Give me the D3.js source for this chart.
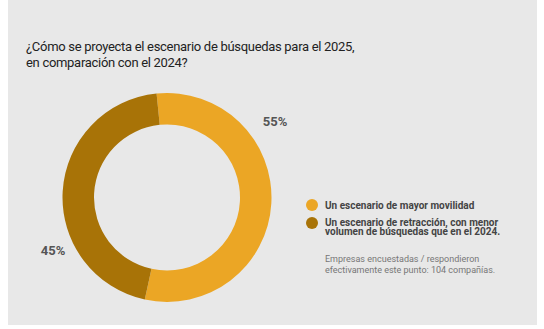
<!DOCTYPE html>
<html><head><meta charset="utf-8">
<script src="https://cdn.jsdelivr.net/npm/d3@7"></script>
<style>body{margin:0;background:#fff;}svg{display:block;font-family:Roboto,"Noto Sans",sans-serif;}</style>
</head><body>
<svg id="c" width="544" height="329"></svg>
<script>
const titleLines = ["¿Cómo se proyecta el escenario de búsquedas para el 2025,", "en comparación con el 2024?"];
const categories = ["Un escenario de mayor movilidad", "Un escenario de retracción, con menor volumen de búsquedas que en el 2024."];
const legendLines = [["Un escenario de mayor movilidad"], ["Un escenario de retracción, con menor", "volumen de búsquedas que en el 2024."]];
const values = [55, 45];
const labels = ["55%", "45%"];
const colors = ["#EBA625", "#A87307"];
const noteLines = ["Empresas encuestadas / respondieron", "efectivamente este punto: 104 compañías."];

const svg = d3.select("#c");
svg.append("rect").attr("x", 8).attr("y", 0).attr("width", 529).attr("height", 325).attr("fill", "#E8E8E8");

svg.append("g").selectAll("text").data(titleLines).join("text")
  .attr("x", 26).attr("y", (d, i) => 51 + i * 16)
  .attr("font-size", 13).attr("letter-spacing", -0.3).attr("fill", "#222").text(d => d);

const cx = 167, cy = 197.5, rOut = 104.5, rIn = 73;
const rot = -0.1;
const pie = d3.pie().sort(null).startAngle(rot).endAngle(2 * Math.PI + rot).value(d => d)(values);
const arc = d3.arc().innerRadius(rIn).outerRadius(rOut);
const g = svg.append("g").attr("transform", `translate(${cx},${cy})`);
g.selectAll("path").data(pie).join("path").attr("d", arc).attr("fill", (d, i) => colors[i]);

const labelPos = [[275, 121], [53, 250]];
svg.append("g").selectAll("text").data(labels).join("text")
  .attr("x", (d, i) => labelPos[i][0]).attr("y", (d, i) => labelPos[i][1])
  .attr("text-anchor", "middle").attr("dominant-baseline", "central")
  .attr("font-size", 13).attr("font-weight", "bold").attr("fill", "#555").text(d => d);

const lg = svg.append("g");
const legY = [205, 222];
categories.forEach((c, i) => {
  lg.append("circle").attr("cx", 312).attr("cy", legY[i] + (i === 1 ? 1 : 0)).attr("r", 6).attr("fill", colors[i]);
  lg.append("text").attr("x", 325).attr("y", legY[i] + 3.5)
    .attr("font-size", 10).attr("font-weight", "bold").attr("fill", "#444")
    .selectAll("tspan").data(legendLines[i]).join("tspan")
    .attr("x", 325).attr("dy", (d, j) => j ? 9.5 : 0).text(d => d);
});

svg.append("g").selectAll("text").data(noteLines).join("text")
  .attr("x", 325).attr("y", (d, i) => 262 + i * 10.5)
  .attr("font-size", 9).attr("fill", "#777").text(d => d);
</script>
</body></html>
